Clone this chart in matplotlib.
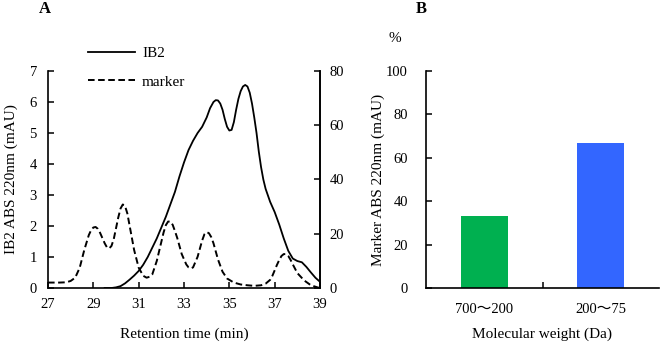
import matplotlib
matplotlib.use("Agg")
import matplotlib.pyplot as plt

plt.rcParams['font.family'] = ['Liberation Serif', 'Noto Sans CJK JP', 'DejaVu Sans']
plt.rcParams['font.size'] = 10.5

# Panel A data
ib2_t = [29.5, 29.8, 30.0, 30.2, 30.4, 30.6, 30.8, 31.0, 31.2, 31.4, 31.6, 31.8, 32.0, 32.2,
         32.4, 32.6, 32.8, 33.0, 33.2, 33.4, 33.6, 33.8, 34.0, 34.15, 34.3, 34.4, 34.5, 34.6,
         34.7, 34.8, 34.9, 35.0, 35.1, 35.2, 35.3, 35.4, 35.5, 35.6, 35.7, 35.8, 35.9, 36.0,
         36.1, 36.2, 36.3, 36.4, 36.5, 36.6, 36.8, 37.0, 37.2, 37.4, 37.6, 37.8, 38.0, 38.2,
         38.4, 38.6, 38.8, 39.0]
ib2_v = [0.0, 0.0, 0.02, 0.06, 0.15, 0.27, 0.4, 0.55, 0.75, 1.0, 1.3, 1.6, 1.95, 2.3,
         2.7, 3.1, 3.6, 4.05, 4.45, 4.75, 5.0, 5.2, 5.5, 5.8, 6.0, 6.06, 6.05, 5.95,
         5.75, 5.45, 5.2, 5.08, 5.1, 5.35, 5.75, 6.1, 6.35, 6.5, 6.55, 6.5, 6.3, 5.95,
         5.5, 5.0, 4.4, 3.9, 3.5, 3.2, 2.78, 2.45, 2.05, 1.6, 1.2, 0.95, 0.87, 0.83,
         0.68, 0.5, 0.33, 0.2]

marker_t = [27.0, 27.5, 27.8, 28.0, 28.2, 28.4, 28.6, 28.8, 28.9, 29.0, 29.1, 29.2, 29.3,
            29.5, 29.6, 29.7, 29.8, 29.9, 30.0, 30.1, 30.2, 30.3, 30.4, 30.5, 30.6, 30.8,
            31.0, 31.2, 31.35, 31.5, 31.6, 31.8, 32.0, 32.1, 32.2, 32.3, 32.4, 32.5, 32.6,
            32.7, 32.9, 33.1, 33.2, 33.3, 33.4, 33.6, 33.7, 33.8, 33.9, 34.0, 34.1, 34.2,
            34.3, 34.5, 34.7, 34.9, 35.2, 35.5, 35.8, 36.1, 36.4, 36.6, 36.8, 36.9, 37.0,
            37.1, 37.2, 37.3, 37.4, 37.5, 37.6, 37.7, 37.8, 38.0, 38.3, 38.6, 38.9, 39.0]
marker_v = [2.0, 2.0, 2.1, 2.6, 3.8, 7.5, 14.0, 19.5, 21.3, 22.3, 22.5, 21.8, 20.3,
            16.5, 15.0, 14.6, 15.5, 18.0, 22.0, 26.0, 29.3, 30.8, 30.2, 27.5, 23.0, 14.0,
            7.5, 4.5, 3.8, 4.2, 5.0, 10.0, 17.0, 20.5, 23.2, 24.5, 24.5, 23.3, 21.0,
            18.5, 12.5, 8.7, 7.6, 7.2, 7.6, 11.5, 14.5, 17.5, 19.8, 20.6, 20.2, 18.8,
            16.5, 10.5, 6.0, 3.5, 2.0, 1.3, 1.0, 0.8, 1.0, 1.6, 3.0, 4.5, 6.5,
            8.5, 10.3, 11.8, 12.5, 12.5, 11.8, 10.4, 8.7, 5.5, 2.8, 1.0, 0.2, 0.0]

xticks_a = [27, 29, 31, 33, 35, 37, 39]
yticks_left = [0, 1, 2, 3, 4, 5, 6, 7]
yticks_right = [0, 20, 40, 60, 80]

# Panel B data
categories = ['700～200', '200～75']
percent = [33, 67]
bar_colors = ['#00B050', '#3366FF']
yticks_b = [0, 20, 40, 60, 80, 100]

fig = plt.figure(figsize=(6.6, 3.42), dpi=100)

W, H = 660.0, 342.0
axA = fig.add_axes([48 / W, 1 - 288 / H, 272 / W, 217 / H])
axA2 = axA.twinx()

lw_sp = 1.2
axA.plot(ib2_t, ib2_v, color='black', lw=1.3, label='IB2')
axA2.plot(marker_t, marker_v, color='black', lw=1.4, linestyle=(0, (3.4, 1.8)), label='marker')

axA.set_xlim(27, 39)
axA.set_ylim(0, 7)
axA2.set_ylim(0, 80)
axA.set_xticks(xticks_a)
axA.set_yticks(yticks_left)
axA2.set_yticks(yticks_right)
for ax in (axA, axA2):
    ax.spines['top'].set_visible(False)
    for s in ax.spines.values():
        s.set_linewidth(lw_sp)
    ax.tick_params(direction='in', length=4, width=1.1, labelsize=10.5)
axA.tick_params(axis='y', pad=8)
axA.tick_params(axis='x', pad=7)
axA2.tick_params(axis='y', pad=7)
axA2.spines['left'].set_visible(False)
axA2.spines['bottom'].set_visible(False)
axA.set_xlabel('Retention time (min)', fontsize=11, labelpad=12)
axA.set_ylabel('IB2 ABS 220nm (mAU)', fontsize=11, labelpad=8)

handles = axA.get_lines() + axA2.get_lines()
fig.legend(handles, [h.get_label() for h in handles], loc='upper left',
           bbox_to_anchor=(74 / W, 1 - 33 / H), frameon=False, fontsize=11,
           handlelength=3.1, labelspacing=0.95, handletextpad=0.45)

# Panel B
axB = fig.add_axes([426 / W, 1 - 288 / H, 233 / W, 217 / H])
x = range(len(categories))
axB.bar(x, percent, width=0.4, color=bar_colors)
axB.set_xlim(-0.5, 1.5)
axB.set_ylim(0, 100)
axB.set_yticks(yticks_b)
axB.set_xticks([0.5])
axB.set_xticklabels([''])
axB.set_xticks([0, 1], minor=True)
axB.set_xticklabels(categories, minor=True)
axB.tick_params(axis='x', which='minor', length=0, pad=11, labelsize=10.5)
axB.tick_params(axis='x', which='major', direction='in', length=4, width=1.1)
axB.tick_params(axis='y', direction='in', length=4, width=1.1, pad=13, labelsize=10.5)
for s in ('top', 'right'):
    axB.spines[s].set_visible(False)
for s in ('left', 'bottom'):
    axB.spines[s].set_linewidth(lw_sp)
axB.set_xlabel('Molecular weight (Da)', fontsize=11, labelpad=8)

fig.text(378 / W, 1 - 180 / H, 'Marker ABS 220nm (mAU)', rotation=90,
         ha='center', va='center', fontsize=11)
fig.text(395 / W, 1 - 38 / H, '%', ha='center', va='center', fontsize=11)
fig.text(45 / W, 1 - 9 / H, 'A', ha='center', va='center', fontsize=12, fontweight='bold')
fig.text(421 / W, 1 - 9 / H, 'B', ha='center', va='center', fontsize=12, fontweight='bold')

fig.savefig('out.png', dpi=100)
